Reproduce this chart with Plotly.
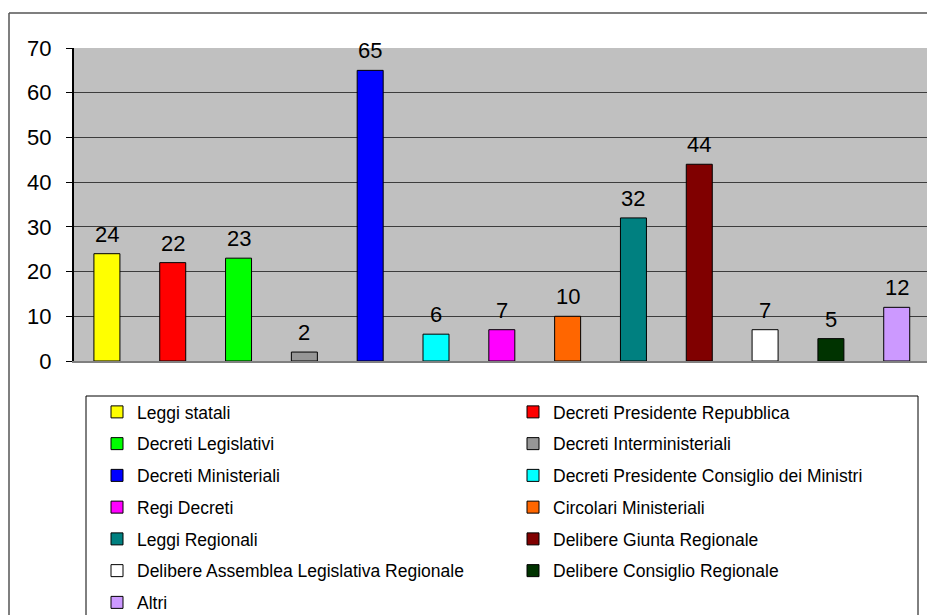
import plotly.graph_objects as go

categories = [
    "Leggi statali",
    "Decreti Presidente Repubblica",
    "Decreti Legislativi",
    "Decreti Interministeriali",
    "Decreti Ministeriali",
    "Decreti Presidente Consiglio dei Ministri",
    "Regi Decreti",
    "Circolari Ministeriali",
    "Leggi Regionali",
    "Delibere Giunta Regionale",
    "Delibere Assemblea Legislativa Regionale",
    "Delibere Consiglio Regionale",
    "Altri",
]
values = [24, 22, 23, 2, 65, 6, 7, 10, 32, 44, 7, 5, 12]
colors = ["#FFFF00", "#FF0000", "#00FF00", "#969696", "#0000FF", "#00FFFF",
          "#FF00FF", "#FF6600", "#008080", "#800000", "#FFFFFF", "#003300",
          "#CC99FF"]
y_ticks = [0, 10, 20, 30, 40, 50, 60, 70]

W, H = 927, 615
L, T, R, B = 74, 48, 927, 361  # plot area pixel box
FONT = "Liberation Sans, Arial, sans-serif"


def px_x(p):
    return (p - L) / (R - L)


def px_y(p):
    return (B - p) / (B - T)


def seg(x0, y0, x1, y1, color, width):
    return dict(type="line", xref="paper", yref="paper",
                x0=px_x(x0), x1=px_x(x1), y0=px_y(y0), y1=px_y(y1),
                line=dict(color=color, width=width))


fig = go.Figure()
for i, (cat, val, col) in enumerate(zip(categories, values, colors)):
    fig.add_trace(go.Bar(
        x=[i], y=[val], name=cat,
        marker=dict(color=col, line=dict(color="#000000", width=1)),
        width=0.395,
        legend="legend" if i % 2 == 0 else "legend2",
        legendgroup=f"g{i}",
        hoverinfo="x+y",
    ))
    fig.add_annotation(
        x=i, y=val, text=str(val), showarrow=False,
        yanchor="bottom", yshift=5,
        font=dict(family=FONT, size=22, color="#000000"),
    )

legend_common = dict(
    font=dict(family=FONT, size=17.5, color="#000000"),
    bgcolor="rgba(0,0,0,0)", borderwidth=0,
    orientation="v", tracegroupgap=6,
    xref="paper", yref="container",
    xanchor="left", yanchor="top",
)

fig.update_layout(
    width=W, height=H,
    margin=dict(l=L, r=W - R, t=T, b=H - B),
    paper_bgcolor="#FFFFFF",
    plot_bgcolor="#C0C0C0",
    barmode="overlay",
    showlegend=True,
    legend=dict(x=px_x(97), y=1 - 394 / H, **legend_common),
    legend2=dict(x=px_x(513), y=1 - 394 / H, **legend_common),
    xaxis=dict(
        range=[-0.5, 12.46], showticklabels=False, ticks="",
        showgrid=False, zeroline=False,
        showline=True, linecolor="#808080", linewidth=2,
        fixedrange=True,
    ),
    yaxis=dict(
        range=[0, 70], tickvals=y_ticks, ticks="outside", ticklen=6,
        tickcolor="#000000", tickwidth=1,
        showline=True, linecolor="#000000", linewidth=2,
        showgrid=True, gridcolor="#3c3c3c", gridwidth=1,
        zeroline=False, ticklabelstandoff=10,
        tickfont=dict(family=FONT, size=22, color="#000000"),
        fixedrange=True,
    ),
    shapes=[
        # outer chart border (top and left visible in the crop)
        seg(9, 13, 927, 13, "#555555", 1.5),
        seg(9, 13, 9, 640, "#555555", 1.5),
        # legend box (top, left, right)
        seg(86, 396, 918, 396, "#000000", 1),
        seg(86, 396, 86, 640, "#000000", 1),
        seg(918, 396, 918, 640, "#000000", 1),
    ],
)

fig.write_html("out.html", config={"displayModeBar": False})
